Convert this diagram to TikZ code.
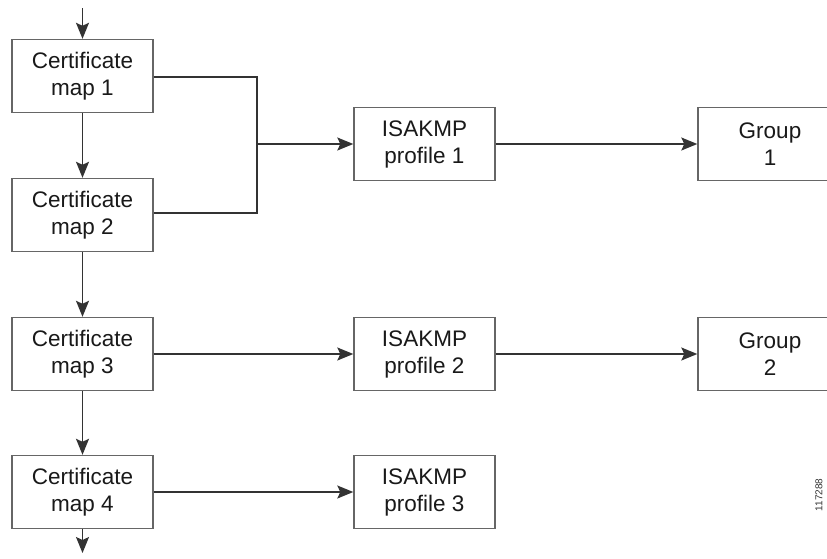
\documentclass[tikz,border=0pt]{standalone}
\usepackage{fontspec}
\setmainfont{Liberation Sans}
\usetikzlibrary{arrows.meta}
\begin{document}
\begin{tikzpicture}[x=1pt,y=-1pt,
  box/.style={draw=black!60, line width=1.4pt, fill=white, minimum width=141pt, minimum height=73pt,
    align=center, inner sep=0pt, font=\fontsize{22.5}{27}\selectfont, text=black!90},
  conn/.style={draw=black!80, line width=1.4pt},
  arr/.style={conn, -{Stealth[length=16pt,width=13pt,inset=3pt]}}]
\useasboundingbox (0,0) rectangle (827,558);
\clip (0,0) rectangle (827,558);
\node[box] (c1) at (82.5,76) {Certificate\\map 1};
\node[box] (c2) at (82.5,215) {Certificate\\map 2};
\node[box] (c3) at (82.5,354) {Certificate\\map 3};
\node[box] (c4) at (82.5,492) {Certificate\\map 4};
\node[box] (p1) at (424.5,144) {ISAKMP\\profile 1};
\node[box] (p2) at (424.5,354) {ISAKMP\\profile 2};
\node[box] (p3) at (424.5,492) {ISAKMP\\profile 3};
\node[box, minimum width=144pt] (g1) at (770,144) {Group\\1};
\node[box, minimum width=144pt] (g2) at (770,354) {Group\\2};
\coordinate (top) at (82.5,8);
\coordinate (bot) at (82.5,553);
\coordinate (br) at (257,144);
\node[rotate=90, font=\fontsize{10}{10}\selectfont, text=black!80, inner sep=0pt] (id) at (819,495) {117288};
\draw[arr] (top) -- (c1);
\draw[arr] (c1) -- (c2);
\draw[arr] (c2) -- (c3);
\draw[arr] (c3) -- (c4);
\draw[arr] (c4) -- (bot);
\draw[conn] (c1.east |- 0,77) -| (br) |- (c2.east |- 0,213);
\draw[arr] (br) -- (p1);
\draw[arr] (p1) -- (g1);
\draw[arr] (c3) -- (p2);
\draw[arr] (p2) -- (g2);
\draw[arr] (c4) -- (p3);
\end{tikzpicture}
\end{document}
